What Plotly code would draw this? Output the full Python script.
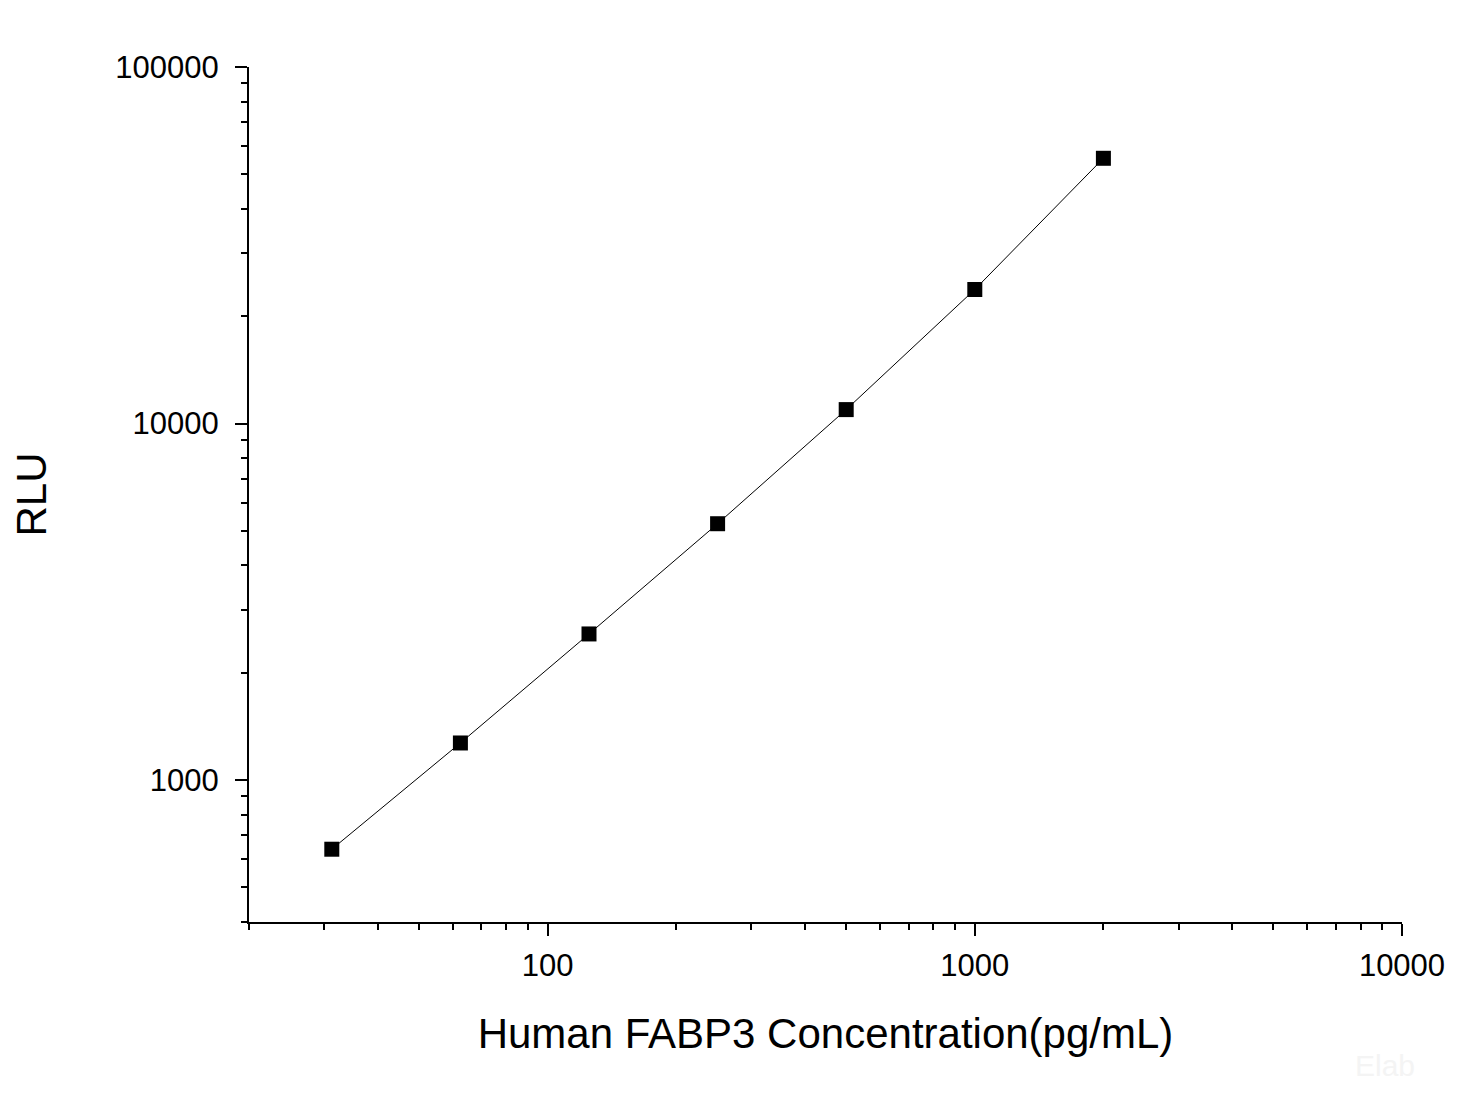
import numpy as np
import plotly.graph_objects as go

conc = [31.25, 62.5, 125, 250, 500, 1000, 2000]
rlu = [640, 1271, 2570, 5237, 10943, 23770, 55460]

fig = go.Figure()
fig.add_trace(go.Scatter(
    x=conc, y=rlu, mode="lines+markers",
    line=dict(color="black", width=1),
    marker=dict(symbol="square", size=15, color="black"),
    showlegend=False,
))

axis_common = dict(
    type="log", showline=True, linecolor="black", linewidth=2,
    ticks="outside", ticklen=12, tickwidth=2, tickcolor="black",
    showgrid=False, zeroline=False, dtick=1, tickformat="d",
    tickfont=dict(family="Arial, Liberation Sans", size=31, color="black"),
    minor=dict(ticks="outside", ticklen=6, tickwidth=2, tickcolor="black", dtick="D1", showgrid=False),
)
fig.update_xaxes(**axis_common, range=[np.log10(20), 4], ticklabelstandoff=3,
                 title=dict(text="Human FABP3 Concentration(pg/mL)", standoff=36,
                            font=dict(family="Arial, Liberation Sans", size=42, color="black")))
fig.update_yaxes(**axis_common, range=[np.log10(400), 5], ticklabelstandoff=10,
                 title=dict(text="RLU", standoff=66,
                            font=dict(family="Arial, Liberation Sans", size=42, color="black")))

fig.add_annotation(text="Elab", x=1.013, y=-0.19, xref="paper", yref="paper",
                   showarrow=False, font=dict(size=30, color="#f4f4f4", family="Arial"))

fig.update_layout(
    width=1459, height=1094,
    margin=dict(l=238, r=65, t=59, b=180),
    plot_bgcolor="white", paper_bgcolor="white",
)
fig.write_html("out.html")
